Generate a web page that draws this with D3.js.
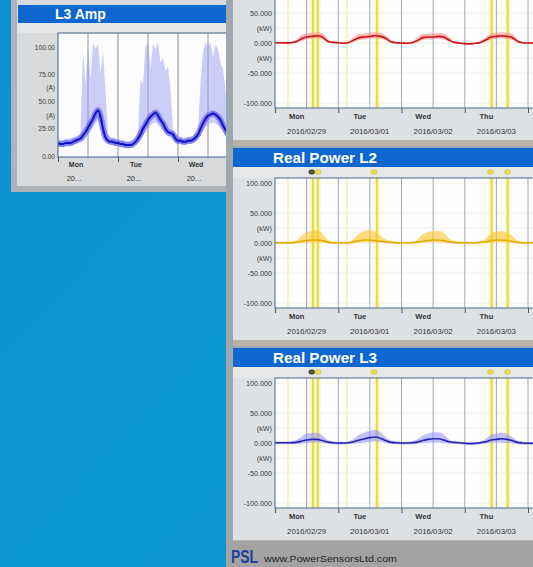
<!DOCTYPE html>
<html><head><meta charset="utf-8">
<script src="https://cdn.jsdelivr.net/npm/d3@7"></script>
<style>html,body{margin:0;padding:0;background:#0a95d2;overflow:hidden}svg{display:block;font-family:"Liberation Sans",Arial,sans-serif}</style>
</head><body><svg id="c" width="533" height="567"></svg>
<script>
// ---------- DATA ----------
const dayNames = ["Mon","Tue","Wed","Thu"];
const dayDates = ["2016/02/29","2016/03/01","2016/03/02","2016/03/03"];
const ampDayNames = ["Mon","Tue","Wed"];
const ampDates = ["20...","20...","20..."];
const ampTickValues = [100,75,62.5,50,37.5,25,0];
const ampTickLabels = ["100.00","75.00","(A)","50.00","(A)","25.00","0.00"];
const powerTickValues = [100,50,25,0,-25,-50,-100];
const powerTickLabels = ["100.000","50.000","(kW)","0.000","(kW)","-50.000","-100.000"];
const dayBoundaryHours = [0,24,48,72,96];

// L3 Amp, hourly samples from Mon 00:00 (A)
const ampAvg = [12,11,11,12,12,12,13,14,15,16,19,22,26,30,34,39,42,36,25,17,14,13,13,12,
                12,11,11,10,10,10,11,13,16,20,25,29,33,36,38,40,37,33,30,25,22,21,20,16,
                14,14,13,13,14,14,15,17,20,25,30,34,37,38,39,38,36,33,28,24,20,17,15,14];
const ampMax = [16,15,15,16,16,16,17,18,19,21,95,65,100,70,104,98,103,75,96,60,20,18,17,16,
                16,15,15,14,14,14,15,18,22,70,66,100,104,80,103,98,104,85,90,78,82,60,24,20,
                18,18,17,17,18,18,19,21,22,68,95,104,100,104,90,102,98,85,80,60,28,22,20,18];
const ampMin = [9,8,8,9,9,9,10,11,12,13,14,16,19,22,26,30,33,28,19,13,11,10,10,9,
                9,8,8,7,7,7,8,10,12,15,19,22,25,28,30,31,29,26,24,20,18,17,16,12,
                11,11,10,10,11,11,12,13,15,19,23,26,29,30,31,30,28,26,22,19,16,14,12,11];

// Real power, 2-hour samples from Mon 00:00 (kW)
const l1Avg = [0.5,0.3,0.2,0.5,2,7,10,11,12,10,3,1, 0.5,-0.5,1,5,9,10,11,12,11,8,2,0.5,
               0,-0.5,0.5,4,9,10,10,11,10,5,1,0, -1,-1.5,-0.5,1,5,10,11,12,11,9,3,0.5,0,0];
const l1Max = [2,1.8,1.7,2,5,13,16,17,18,16,6,2.5, 2,1,3,10,15,16,17,18,17,13,5,2,
               1.5,1,2,9,15,16,16,17,16,10,3,1.5, 0.5,0,1,3,10,16,17,18,17,15,6,2,1.5,1.5];
const l1Min = [-1,-1.2,-1.3,-1,0,3,6,7,8,6,1,-0.5, -1,-2,-0.5,2,5,6,7,8,7,4,0,-1,
               -1.5,-2,-1,1,5,6,6,7,6,2,-0.5,-1.5, -2.5,-3,-2,-0.5,2,6,7,8,7,5,1,-1,-1.5,-1.5];

const l2Avg = [0.5,0.5,0.5,0.5,1,3,4,5,5,4,1.5,0.5, 0.5,0.5,0.5,2,4,5,5,4,3,2,1,0.5,
               0.5,0.5,0.5,1.5,3,4,5,5,4,2,1,0.5, 0.5,0.5,0.5,1,2,4,5,5,4,3,1,0.5,0.5,0.5];
const l2Max = [2,2,2,2,4,12,18,20,22,16,6,2, 2,2,2,8,16,20,22,18,12,6,3,2,
               2,2,2,6,14,18,20,20,17,8,3,2, 2,2,2,3,8,16,19,20,17,12,4,2,2,2];
const l2Min = [-1,-1,-1,-1,-0.5,0,1,1,1,1,0,-1, -1,-1,-1,0,1,1,1,1,0.5,0,-0.5,-1,
               -1,-1,-1,0,0.5,1,1,1,1,0,-0.5,-1, -1,-1,-1,-0.5,0,1,1,1,1,0.5,-0.5,-1,-1,-1];

const l3Avg = [0.5,0.3,0.3,0.5,1,3,5,6,6,4,1.5,0.5, 0,0,0.5,2,5,7,9,10,8,4,1,0.5,
               0,0,0.5,1.5,4,6,7,7,5,2,1,0.5, -0.5,-1,-0.5,0.5,2,5,6,7,6,4,1,0,-0.5,-0.5];
const l3Max = [3,2.5,2.5,3,5,10,16,17,17,12,5,3, 2,2,3,7,14,18,20,22,18,10,4,3,
               2,2,3,6,12,16,18,18,14,6,3,2, 1.5,1,1.5,3,7,14,16,17,15,10,4,2,1.5,1.5];
const l3Min = [-2,-2.2,-2.2,-2,-1.5,-1,0,1,1,0,-1,-2, -2.5,-2.5,-2,-1,0,1,2,3,2,0,-1.5,-2,
               -2.5,-2.5,-2,-1.5,-0.5,0.5,1,1,0,-1,-1.5,-2, -3,-3.5,-3,-2,-1,0,1,1,0,-0.5,-2,-2.5,-3,-3];

const eventHours = [14.4,16.3,38.7,82.2,88.3];
const faintEventHours = [4.9,27.3];
const markerHours = [13.2,15.5,36.8,81.0,87.5];

// ---------- DRAW ----------
const svg = d3.select("#c");
const defs = svg.append("defs");
const bg = defs.append("linearGradient").attr("id","bg").attr("x1",0).attr("y1",0).attr("x2",1).attr("y2",1);
bg.append("stop").attr("offset","0%").attr("stop-color","#0a92cf");
bg.append("stop").attr("offset","55%").attr("stop-color","#0b99d6");
bg.append("stop").attr("offset","100%").attr("stop-color","#0893d0");
svg.append("rect").attr("width",533).attr("height",567).attr("fill","url(#bg)");

const headerBlue = "#0d67cf";

// ===== LEFT PANEL: L3 Amp =====
const lp = svg.append("g");
lp.append("rect").attr("x",11).attr("y",-6).attr("width",230).attr("height",198).attr("fill","#aeb3b8");
lp.append("rect").attr("x",17).attr("y",0).attr("width",220).attr("height",186).attr("fill","#d8dadc");
lp.append("rect").attr("x",18).attr("y",5).attr("width",220).attr("height",18).attr("fill",headerBlue);
lp.append("text").attr("x",55).attr("y",19).attr("fill","#fff").attr("font-weight","bold")
  .attr("font-size",14).text("L3 Amp");
lp.append("rect").attr("x",18).attr("y",23).attr("width",220).attr("height",10).attr("fill","#e4e5e6");

const ampX = d3.scaleLinear().domain([0,24]).range([58,118]);
const ampY = d3.scaleLinear().domain([-0.9,112.8]).range([157,33]);
defs.append("clipPath").attr("id","clipA").append("rect").attr("x",58).attr("y",33).attr("width",182).attr("height",124);
lp.append("rect").attr("x",58).attr("y",33).attr("width",182).attr("height",124).attr("fill","#fdfdff");
const ap = lp.append("g").attr("clip-path","url(#clipA)");
ap.selectAll("line.vg").data([12,24,36,48,60,72]).join("line")
  .attr("x1",d=>ampX(d)).attr("x2",d=>ampX(d)).attr("y1",33).attr("y2",157)
  .attr("stroke","#8e9196").attr("stroke-width",1);
const ampRows = ampAvg.map((v,i)=>({h:i, avg:v, mx:ampMax[i], mn:ampMin[i]}));
ap.append("path").datum(ampRows)
  .attr("d", d3.area().x(d=>ampX(d.h)).y0(d=>ampY(d.mn)).y1(d=>ampY(d.mx)).curve(d3.curveLinear))
  .attr("fill","#9c9cf4").attr("opacity",0.5);
ap.append("path").datum(ampRows)
  .attr("d", d3.line().x(d=>ampX(d.h)).y(d=>ampY(d.avg)).curve(d3.curveMonotoneX))
  .attr("fill","none").attr("stroke","#4646e6").attr("stroke-width",6).attr("opacity",0.55);
ap.append("path").datum(ampRows)
  .attr("d", d3.line().x(d=>ampX(d.h)).y(d=>ampY(d.avg)).curve(d3.curveMonotoneX))
  .attr("fill","none").attr("stroke","#1212c4").attr("stroke-width",2);
lp.append("rect").attr("x",58).attr("y",33).attr("width",182).attr("height",124)
  .attr("fill","none").attr("stroke","#3d5c86").attr("stroke-width",1);
const ampAxis = lp.append("g").attr("transform","translate(58,0)")
  .call(d3.axisLeft(ampY).tickValues(ampTickValues).tickFormat((d,i)=>ampTickLabels[i]).tickSize(0).tickPadding(3));
ampAxis.select(".domain").remove();
ampAxis.selectAll("text").attr("font-size",6.6).attr("fill","#3a3a3a").attr("font-family","Liberation Sans, Arial");
const ampXAxis = lp.append("g").attr("transform","translate(0,157)")
  .call(d3.axisBottom(ampX).tickValues([0,24,48,72]).tickFormat("").tickSize(5));
ampXAxis.select(".domain").remove();
ampXAxis.selectAll("line").attr("stroke","#555");
lp.selectAll("text.ad").data(ampDayNames).join("text").attr("class","ad")
  .attr("x",(d,i)=>ampX(i*24+12)-12).attr("y",167).attr("text-anchor","middle")
  .attr("font-size",7).attr("font-weight","bold").attr("fill","#333").text(d=>d);
lp.selectAll("text.adt").data(ampDates).join("text").attr("class","adt")
  .attr("x",(d,i)=>ampX(i*24+12)-14).attr("y",181).attr("text-anchor","middle")
  .attr("font-size",7.5).attr("fill","#333").text(d=>d);

// ===== RIGHT COLUMN =====
svg.append("rect").attr("x",226).attr("y",0).attr("width",307).attr("height",567).attr("fill","#9ea6ae");

const pX = d3.scaleLinear().domain([0,24]).range([275,338.25]);

function powerPanel(top, title, avg, mx, mn, bandColor, bandOpacity, lineColor, id){
  const g = svg.append("g");
  g.append("rect").attr("x",233).attr("y",top).attr("width",300).attr("height",192).attr("fill","#dee1e4");
  g.append("rect").attr("x",233).attr("y",top+192).attr("width",300).attr("height",6).attr("fill","#b9b2aa");
  g.append("rect").attr("x",233).attr("y",top).attr("width",300).attr("height",19).attr("fill",headerBlue);
  if (top >= 0) {
    g.append("text").attr("x",273).attr("y",top+15).attr("fill","#fff").attr("font-weight","bold")
      .attr("font-size",14).attr("textLength",104).attr("lengthAdjust","spacingAndGlyphs").text(title);
  }
  g.append("rect").attr("x",233).attr("y",top+19).attr("width",300).attr("height",11).attr("fill","#e6e7e8");

  const y = d3.scaleLinear().domain([-108.3,108.3]).range([top+160, top+30]);
  const pTop = top+30, pH = 130;
  defs.append("clipPath").attr("id",id).append("rect").attr("x",275).attr("y",pTop).attr("width",260).attr("height",pH);
  g.append("rect").attr("x",275).attr("y",pTop).attr("width",260).attr("height",pH).attr("fill","#fefefe");
  const p = g.append("g").attr("clip-path",`url(#${id})`);
  p.selectAll("line.hg").data(powerTickValues).join("line")
    .attr("x1",275).attr("x2",533).attr("y1",d=>y(d)).attr("y2",d=>y(d))
    .attr("stroke","#ececec").attr("stroke-width",0.8);
  p.selectAll("line.vg").data([12,24,36,48,60,72,84,96]).join("line")
    .attr("x1",d=>pX(d)).attr("x2",d=>pX(d)).attr("y1",pTop).attr("y2",pTop+pH)
    .attr("stroke","#98a0aa").attr("stroke-width",0.9);
  p.selectAll("line.fe").data(faintEventHours).join("line")
    .attr("x1",d=>pX(d)).attr("x2",d=>pX(d)).attr("y1",pTop).attr("y2",pTop+pH)
    .attr("stroke","#f6f0b0").attr("stroke-width",1.5);
  p.selectAll("line.eh").data(eventHours).join("line")
    .attr("x1",d=>pX(d)).attr("x2",d=>pX(d)).attr("y1",pTop).attr("y2",pTop+pH)
    .attr("stroke","#f8f4c4").attr("stroke-width",5);
  p.selectAll("line.ev").data(eventHours).join("line")
    .attr("x1",d=>pX(d)).attr("x2",d=>pX(d)).attr("y1",pTop).attr("y2",pTop+pH)
    .attr("stroke","#e8dd3c").attr("stroke-width",2);
  const rows = avg.map((v,i)=>({h:i*2, avg:v, mx:mx[i], mn:mn[i]}));
  p.append("path").datum(rows)
    .attr("d", d3.area().x(d=>pX(d.h)).y0(d=>y(d.mn)).y1(d=>y(d.mx)).curve(d3.curveMonotoneX))
    .attr("fill",bandColor).attr("opacity",bandOpacity);
  p.append("path").datum(rows)
    .attr("d", d3.line().x(d=>pX(d.h)).y(d=>y(d.avg)).curve(d3.curveMonotoneX))
    .attr("fill","none").attr("stroke",lineColor).attr("stroke-width",1.6);
  g.append("rect").attr("x",275).attr("y",pTop).attr("width",260).attr("height",pH)
    .attr("fill","none").attr("stroke","#466892").attr("stroke-width",1);
  const visibleTicks = powerTickValues.filter(v => y(v) > 6);
  const ya = g.append("g").attr("transform","translate(275,0)")
    .call(d3.axisLeft(y).tickValues(visibleTicks)
      .tickFormat(d=>powerTickLabels[powerTickValues.indexOf(d)]).tickSize(0).tickPadding(3));
  ya.select(".domain").remove();
  ya.selectAll("text").attr("font-size",7.2).attr("fill","#3a3a3a").attr("font-family","Liberation Sans, Arial");
  const xa = g.append("g").attr("transform",`translate(0,${pTop+pH})`)
    .call(d3.axisBottom(pX).tickValues(dayBoundaryHours).tickFormat("").tickSize(5));
  xa.select(".domain").remove();
  xa.selectAll("line").attr("stroke","#555");
  g.selectAll("text.dn").data(dayNames).join("text").attr("class","dn")
    .attr("x",(d,i)=>pX(i*24+12)-10).attr("y",top+171).attr("text-anchor","middle")
    .attr("font-size",7.5).attr("font-weight","bold").attr("fill","#333").text(d=>d);
  g.selectAll("text.dd").data(dayDates).join("text").attr("class","dd")
    .attr("x",(d,i)=>pX(i*24+12)).attr("y",top+186).attr("text-anchor","middle")
    .attr("font-size",7.8).attr("fill","#333").text(d=>d);
  // event markers
  g.selectAll("ellipse.mk").data(markerHours).join("ellipse")
    .attr("cx",d=>pX(d)+2).attr("cy",top+24).attr("rx",3).attr("ry",2.2)
    .attr("fill",(d,i)=>i===0?"#506030":"#eadf48").attr("stroke",(d,i)=>i===0?"#223":"#c8b828").attr("stroke-width",0.6);
}

powerPanel(-52, "Real Power L1", l1Avg, l1Max, l1Min, "#ff8a8a", 0.6, "#cc1414", "clip1");
powerPanel(148, "Real Power L2", l2Avg, l2Max, l2Min, "#ffc52a", 0.6, "#e0aa00", "clip2");
powerPanel(348, "Real Power L3", l3Avg, l3Max, l3Min, "#8c8cff", 0.55, "#2424b4", "clip3");

// footer
svg.append("rect").attr("x",226).attr("y",541).attr("width",307).attr("height",26).attr("fill","#a3a3a3");
svg.append("text").attr("x",231).attr("y",563).attr("font-size",19).attr("font-weight","bold")
  .attr("fill","#1c3f9e").attr("textLength",27).attr("lengthAdjust","spacingAndGlyphs").text("PSL");
svg.append("text").attr("x",264).attr("y",562).attr("font-size",9.5).attr("fill","#1e1e1e")
  .attr("textLength",133).attr("lengthAdjust","spacingAndGlyphs").text("www.PowerSensorsLtd.com");
</script></body></html>
